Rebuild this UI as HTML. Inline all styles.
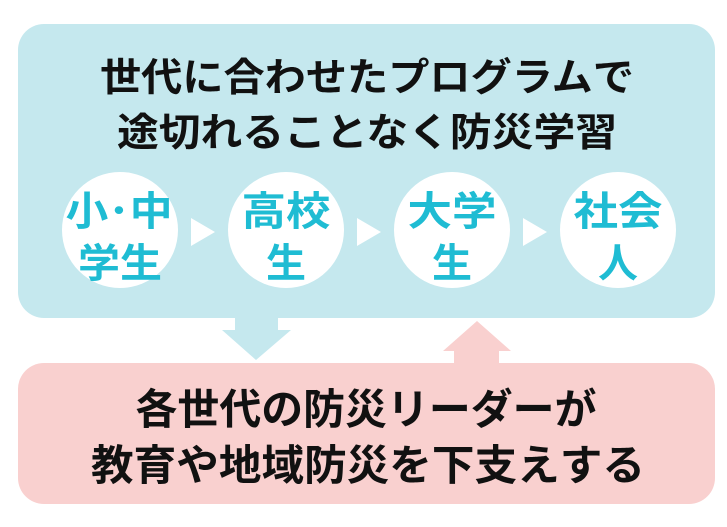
<!DOCTYPE html>
<html><head><meta charset="utf-8"><style>
html,body{margin:0;padding:0;background:#fff;}
svg{display:block;}
text{font-family:"Liberation Sans","Noto Sans CJK JP",sans-serif;font-weight:bold;}
</style></head><body>
<svg width="727" height="527" viewBox="0 0 727 527" xmlns="http://www.w3.org/2000/svg">
<rect x="18" y="24" width="697" height="294" rx="26" fill="#c5e8ee"/>
<rect x="18" y="363" width="697" height="141" rx="26" fill="#f9d0cf"/>
<polygon points="235,316 278,316 278,330 291,330 256,360 222,330 235,330" fill="#c5e8ee"/>
<polygon points="477,321 511,351 499,351 499,365 454,365 454,351 443,351" fill="#f9d0cf"/>
<text x="367" y="91" font-size="39" fill="#111" text-anchor="middle" textLength="534" lengthAdjust="spacingAndGlyphs">世代に合わせたプログラムで</text>
<text x="367" y="146" font-size="39" fill="#111" text-anchor="middle" textLength="500" lengthAdjust="spacingAndGlyphs">途切れることなく防災学習</text>
<g fill="#fff">
<circle cx="120" cy="230" r="58"/>
<circle cx="286" cy="230" r="58"/>
<circle cx="452" cy="230" r="58"/>
<circle cx="618" cy="230" r="58"/>
<polygon points="191,218 215,232 191,246"/>
<polygon points="357,218 381,232 357,246"/>
<polygon points="523,218 547,232 523,246"/>
</g>
<g fill="#1fbcd3" font-size="40" text-anchor="middle">
<text x="119" y="225" textLength="107" lengthAdjust="spacingAndGlyphs">小･中</text><text x="120" y="277" textLength="84" lengthAdjust="spacingAndGlyphs">学生</text>
<text x="286" y="225" textLength="89" lengthAdjust="spacingAndGlyphs">高校</text><text x="286" y="277">生</text>
<text x="452" y="225" textLength="89" lengthAdjust="spacingAndGlyphs">大学</text><text x="452" y="277">生</text>
<text x="618" y="225" textLength="89" lengthAdjust="spacingAndGlyphs">社会</text><text x="618" y="277">人</text>
</g>
<text x="366" y="424" font-size="42" fill="#111" text-anchor="middle" textLength="461" lengthAdjust="spacingAndGlyphs">各世代の防災リーダーが</text>
<text x="368" y="480" font-size="42" fill="#111" text-anchor="middle" textLength="554" lengthAdjust="spacingAndGlyphs">教育や地域防災を下支えする</text>
</svg>
</body></html>
